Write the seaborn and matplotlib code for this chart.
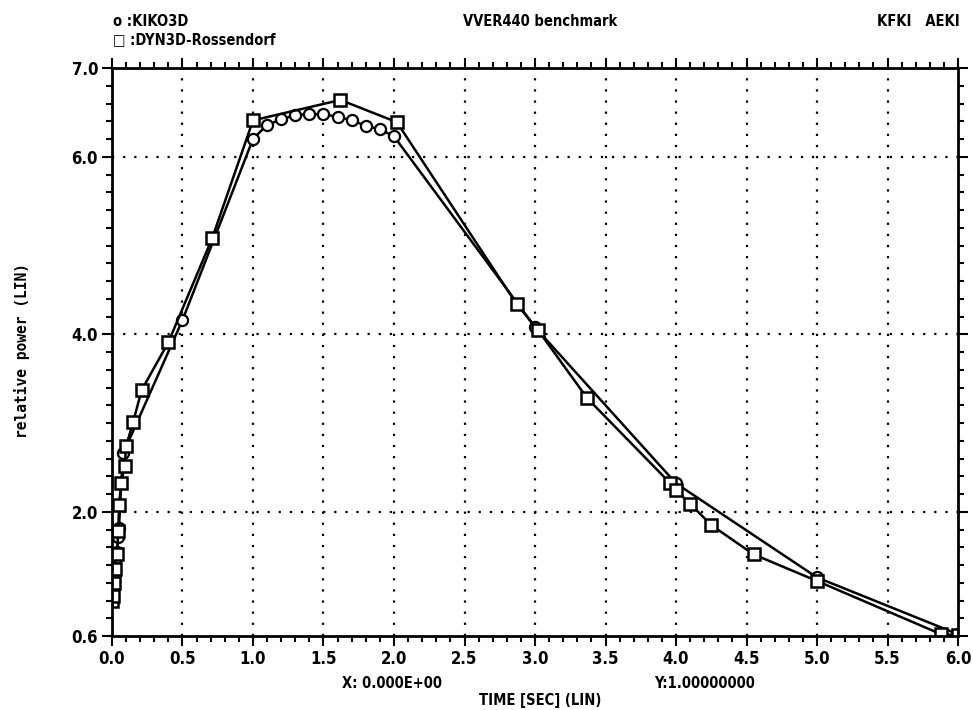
import numpy as np
import pandas as pd
import matplotlib
matplotlib.use("Agg")
import matplotlib.pyplot as plt
from matplotlib.ticker import MultipleLocator, FixedLocator
import seaborn as sns

# ---- data ----
kiko_t = [0.0, 0.03, 0.035, 0.045, 0.05, 0.065, 0.08, 0.5,
          1.0, 1.1, 1.2, 1.3, 1.4, 1.5, 1.6, 1.7, 1.8, 1.9, 2.0,
          3.0, 4.0, 5.0, 6.0]
kiko_p = [1.0, 1.48, 1.55, 1.72, 1.82, 2.32, 2.66, 4.16,
          6.20, 6.36, 6.42, 6.47, 6.48, 6.48, 6.45, 6.41, 6.35, 6.31, 6.23,
          4.08, 2.32, 1.26, 0.62]

dyn_t = [0.0, 0.01, 0.015, 0.02, 0.035, 0.045, 0.05, 0.065, 0.09, 0.1,
         0.15, 0.21, 0.4, 0.71, 1.0, 1.62, 2.02, 2.87, 3.02, 3.37,
         3.96, 4.0, 4.1, 4.25, 4.55, 5.0, 5.88, 6.0]
dyn_p = [1.0, 1.05, 1.20, 1.35, 1.52, 1.78, 2.08, 2.32, 2.52, 2.74,
         3.01, 3.37, 3.91, 5.08, 6.41, 6.64, 6.39, 4.34, 4.05, 3.28,
         2.32, 2.24, 2.09, 1.85, 1.52, 1.22, 0.62, 0.61]

x_major = [0.0, 0.5, 1.0, 1.5, 2.0, 2.5, 3.0, 3.5, 4.0, 4.5, 5.0, 5.5, 6.0]
y_major = [0.6, 2.0, 4.0, 6.0, 7.0]
y_grid = [2.0, 4.0, 6.0]

sns.set_style("ticks")
plt.rcParams['font.family'] = ['DejaVu Sans']
plt.rcParams['text.color'] = 'black'
plt.rcParams['xtick.color'] = 'black'
plt.rcParams['ytick.color'] = 'black'
plt.rcParams['axes.labelcolor'] = 'black'

fig = plt.figure(figsize=(9.73, 7.10), dpi=100)
ax = fig.add_axes([0.1151, 0.1042, 0.8695, 0.8000])

df_k = pd.DataFrame({"t": kiko_t, "p": kiko_p})
df_d = pd.DataFrame({"t": dyn_t, "p": dyn_p})

sns.lineplot(data=df_k, x="t", y="p", ax=ax, sort=False, estimator=None,
             color="black", linewidth=1.8, marker="o", markersize=8,
             markerfacecolor="white", markeredgecolor="black", markeredgewidth=1.6)
sns.lineplot(data=df_d, x="t", y="p", ax=ax, sort=False, estimator=None,
             color="black", linewidth=1.8, marker="s", markersize=9,
             markerfacecolor="white", markeredgecolor="black", markeredgewidth=1.8)

ax.set_xlim(0.0, 6.0)
ax.set_ylim(0.6, 7.0)

ax.xaxis.set_major_locator(FixedLocator(x_major))
ax.yaxis.set_major_locator(FixedLocator(y_major))
ax.xaxis.set_minor_locator(MultipleLocator(0.1))
ax.yaxis.set_minor_locator(MultipleLocator(0.2))

fp = dict(family='DejaVu Sans', fontstretch='condensed', fontweight='bold', color='black')
ax.set_xticklabels([f"{v:.1f}" for v in x_major], fontsize=12, **fp)
ax.set_yticklabels([f"{v:.1f}" for v in y_major], fontsize=12, **fp)

ax.tick_params(which='both', direction='out', top=True, right=True,
               labeltop=False, labelright=False, color='black', width=1.5)
ax.tick_params(which='major', length=7, pad=3)
ax.tick_params(which='minor', length=4)

for v in x_major[1:-1]:
    ax.axvline(v, color='black', linestyle=(0, (1, 4)), linewidth=1.6, zorder=0)
for v in y_grid:
    ax.axhline(v, color='black', linestyle=(0, (1, 4)), linewidth=1.6, zorder=0)

for s in ax.spines.values():
    s.set_linewidth(2.0)
    s.set_color('black')

ax.set_xlabel("")
ax.set_ylabel("")

# header texts
fig.text(113 / 973, 1 - 22 / 710, "o :KIKO3D", fontsize=10.5, va='center', ha='left', **fp)
fig.text(113 / 973, 1 - 40 / 710, "\u25a1 :DYN3D-Rossendorf", fontsize=10.5, va='center', ha='left', **fp)
fig.text(540 / 973, 1 - 22 / 710, "VVER440 benchmark", fontsize=10.5, va='center', ha='center', **fp)
fig.text(960 / 973, 1 - 22 / 710, "KFKI   AEKI", fontsize=10.5, va='center', ha='right', **fp)

# footer texts
fig.text(392 / 973, 1 - 684 / 710, "X: 0.000E+00", fontsize=10.5, va='center', ha='center', **fp)
fig.text(705 / 973, 1 - 684 / 710, "Y:1.00000000", fontsize=10.5, va='center', ha='center', **fp)
fig.text(540 / 973, 1 - 700 / 710, "TIME [SEC] (LIN)", fontsize=10.5, va='center', ha='center', **fp)

fig.text(22 / 973, 1 - 350 / 710, "relative power (LIN)", fontsize=10.5, rotation=90,
         va='center', ha='center', family='DejaVu Sans Mono', fontweight='bold', color='black')

fig.savefig("out.png", dpi=100, facecolor='white')
